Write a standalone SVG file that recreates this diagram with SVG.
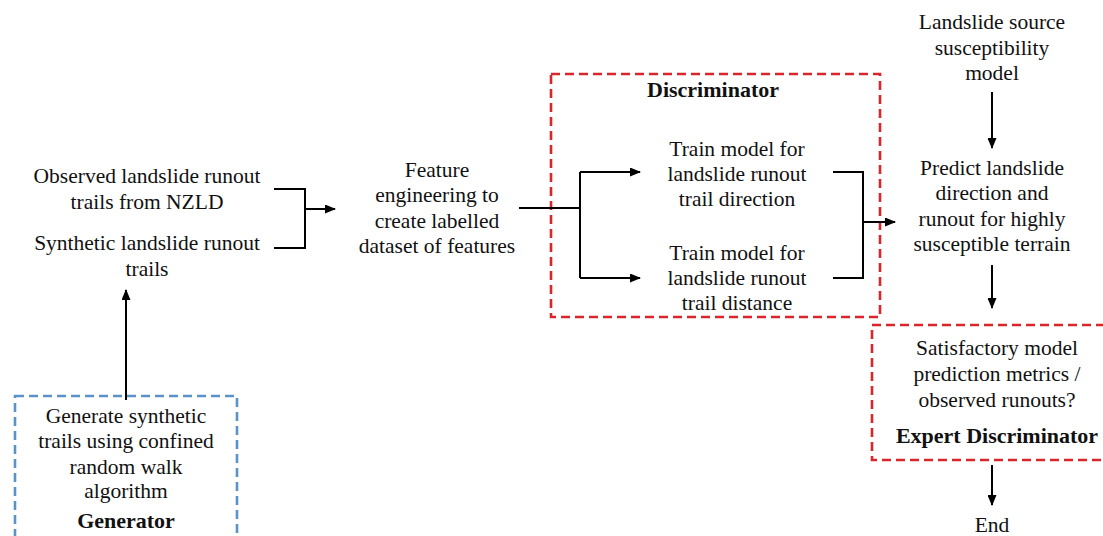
<svg xmlns="http://www.w3.org/2000/svg" width="1103" height="536" viewBox="0 0 1103 536">
<defs>
<style>
.t{font-family:"Liberation Serif", serif;font-size:21.5px;fill:#111;text-anchor:middle}
.b{font-weight:bold;font-size:22px}
.c{fill:none;stroke:#000;stroke-width:2}
.red{fill:none;stroke:#d9262b;stroke-width:2.6;stroke-dasharray:9 5}
.blue{fill:none;stroke:#5b93c9;stroke-width:2.6;stroke-dasharray:9 5}
</style>
<marker id="ah" markerUnits="userSpaceOnUse" markerWidth="11" markerHeight="9" refX="10" refY="4.5" orient="auto">
<path d="M0,0 L11,4.5 L0,9 z" fill="#000"/>
</marker>
</defs>
<rect width="1103" height="536" fill="#fff"/>
<g id="observed">
<text class="t" font-family="Liberation Serif" x="147" y="183">Observed landslide runout</text>
<text class="t" font-family="Liberation Serif" x="147" y="209">trails from NZLD</text>
</g>
<g id="synthetic">
<text class="t" font-family="Liberation Serif" x="147" y="250">Synthetic landslide runout</text>
<text class="t" font-family="Liberation Serif" x="147" y="276">trails</text>
</g>
<g id="generator">
<rect class="blue" x="15" y="396" width="222" height="150"/>
<text class="t" font-family="Liberation Serif" x="126" y="423">Generate synthetic</text>
<text class="t" font-family="Liberation Serif" x="126" y="448">trails using confined</text>
<text class="t" font-family="Liberation Serif" x="126" y="474">random walk</text>
<text class="t" font-family="Liberation Serif" x="126" y="498">algorithm</text>
<text class="t b" font-family="Liberation Serif" x="126" y="528">Generator</text>
</g>
<g id="feature">
<text class="t" font-family="Liberation Serif" x="437" y="177">Feature</text>
<text class="t" font-family="Liberation Serif" x="437" y="202">engineering to</text>
<text class="t" font-family="Liberation Serif" x="437" y="227.5">create labelled</text>
<text class="t" font-family="Liberation Serif" x="437" y="253">dataset of features</text>
</g>
<g id="discriminator">
<rect class="red" x="551" y="74" width="329" height="243"/>
<text class="t b" font-family="Liberation Serif" x="713" y="97">Discriminator</text>
</g>
<g id="train-direction">
<text class="t" font-family="Liberation Serif" x="737" y="156">Train model for</text>
<text class="t" font-family="Liberation Serif" x="737" y="181">landslide runout</text>
<text class="t" font-family="Liberation Serif" x="737" y="206">trail direction</text>
</g>
<g id="train-distance">
<text class="t" font-family="Liberation Serif" x="737" y="260">Train model for</text>
<text class="t" font-family="Liberation Serif" x="737" y="285">landslide runout</text>
<text class="t" font-family="Liberation Serif" x="737" y="310">trail distance</text>
</g>
<g id="source">
<text class="t" font-family="Liberation Serif" x="992" y="29">Landslide source</text>
<text class="t" font-family="Liberation Serif" x="992" y="54.5">susceptibility</text>
<text class="t" font-family="Liberation Serif" x="992" y="80">model</text>
</g>
<g id="predict">
<text class="t" font-family="Liberation Serif" x="992" y="175">Predict landslide</text>
<text class="t" font-family="Liberation Serif" x="992" y="200">direction and</text>
<text class="t" font-family="Liberation Serif" x="992" y="226">runout for highly</text>
<text class="t" font-family="Liberation Serif" x="992" y="251">susceptible terrain</text>
</g>
<g id="expert">
<rect class="red" x="872" y="325" width="236" height="135"/>
<text class="t" font-family="Liberation Serif" x="997" y="355">Satisfactory model</text>
<text class="t" font-family="Liberation Serif" x="997" y="381">prediction metrics /</text>
<text class="t" font-family="Liberation Serif" x="997" y="407">observed runouts?</text>
<text class="t b" font-family="Liberation Serif" x="997" y="443">Expert Discriminator</text>
</g>
<g id="end">
<text class="t" font-family="Liberation Serif" x="992" y="532">End</text>
</g>
<g id="connectors">
<path class="c" d="M274 189 H305 V248 H274"/>
<path class="c" d="M305 209 H335" marker-end="url(#ah)"/>
<path class="c" d="M519 208 H580"/>
<path class="c" d="M580 172 V278"/>
<path class="c" d="M580 172 H640" marker-end="url(#ah)"/>
<path class="c" d="M580 278 H640" marker-end="url(#ah)"/>
<path class="c" d="M833 172 H863 V278 H833"/>
<path class="c" d="M863 222 H895" marker-end="url(#ah)"/>
<path class="c" d="M992 92 V148" marker-end="url(#ah)"/>
<path class="c" d="M992 265 V308" marker-end="url(#ah)"/>
<path class="c" d="M992 465 V505" marker-end="url(#ah)"/>
<path class="c" d="M126 400 V290" marker-end="url(#ah)"/>
</g>
</svg>
